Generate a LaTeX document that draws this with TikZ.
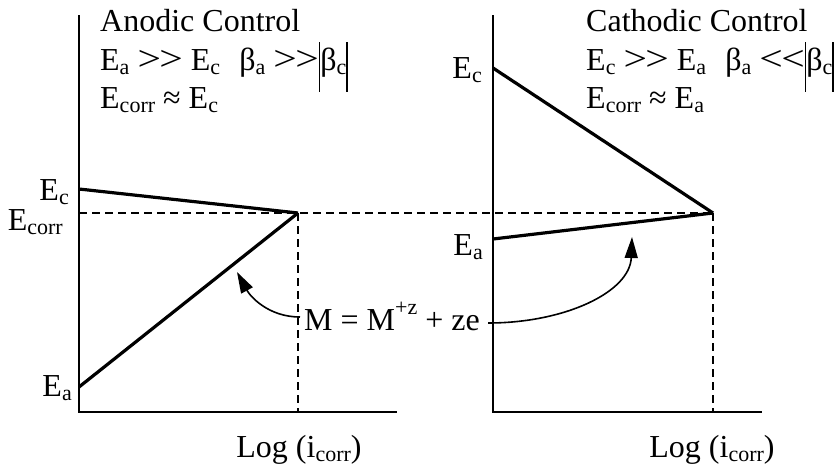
\documentclass[tikz,border=0pt]{standalone}
\usepackage{fontspec}
\usepackage{graphicx}
\setmainfont{Liberation Serif}
\usetikzlibrary{arrows.meta}
\newcommand\lsub[1]{\raisebox{-0.15em}{\fontsize{22}{22}\selectfont #1}}
\newcommand\lsup[1]{\raisebox{0.5em}{\fontsize{22}{22}\selectfont #1}}
\newcommand\vbar{\raisebox{-0.68em}{\rule{1.6pt}{1.56em}}}
\newcommand\bgt{\scalebox{1.3}[1.1]{>}}
\newcommand\blt{\scalebox{1.3}[1.1]{<}}
\newcommand\mgg{\bgt\kern-0.05em\bgt}
\newcommand\mll{\blt\kern-0.05em\blt}
\begin{document}
\begin{tikzpicture}[x=1pt,y=-1pt,
  axis/.style={line width=2pt},
  curve/.style={line width=3.2pt},
  guide/.style={line width=1.6pt, dash pattern=on 8pt off 5pt},
  callout/.style={line width=1.6pt, -{Triangle[length=21pt,width=13pt]}},
  lbl/.style={inner sep=0pt, font=\fontsize{32}{38}\selectfont}]
\useasboundingbox (0,0) rectangle (840,467);
% coordinates
\coordinate (LO) at (79,412); \coordinate (LT) at (79,15); \coordinate (LX) at (397,412);
\coordinate (LEc) at (79,189); \coordinate (LEa) at (79,387);
\coordinate (LI) at (298,213); \coordinate (LB) at (298,412);
\coordinate (RO) at (493,412); \coordinate (RT) at (493,15); \coordinate (RX) at (762,412);
\coordinate (REc) at (493,68); \coordinate (REa) at (493,239);
\coordinate (RI) at (713,213); \coordinate (RB) at (713,412);
% dashed guides
\draw[guide] (LO |- LI) -- (RI);
\draw[guide] (LI) -- (LB);
\draw[guide] (RI) -- (RB);
% axes
\draw[axis] (LT) -- (LO) -- (LX);
\draw[axis] (RT) -- (RO) -- (RX);
% polarization lines
\draw[curve] (LEc) -- (LI);
\draw[curve] (LEa) -- (LI);
\draw[curve] (REc) -- (RI);
\draw[curve] (REa) -- (RI);
% headings
\node[lbl, anchor=base west] (lt1) at (100,31) {Anodic Control};
\node[lbl, anchor=base west] (lt2) at (100,70) {E\lsub{a} \mgg{} E\lsub{c}\hspace{0.6em}β\lsub{a} \mgg\vbar β\lsub{c}\vbar};
\node[lbl, anchor=base west] (lt3) at (100,108) {E\lsub{corr} ≈ E\lsub{c}};
\node[lbl, anchor=base west] (rt1) at (586,31) {Cathodic Control};
\node[lbl, anchor=base west] (rt2) at (586,70) {E\lsub{c} \mgg{} E\lsub{a}\hspace{0.6em}β\lsub{a} \mll\vbar β\lsub{c}\vbar};
\node[lbl, anchor=base west] (rt3) at (586,108) {E\lsub{corr} ≈ E\lsub{a}};
% axis labels
\node[lbl, anchor=base east] (lEc) at (69,200) {E\lsub{c}};
\node[lbl, anchor=base east] (lEcorr) at (63,230) {E\lsub{corr}};
\node[lbl, anchor=base east] (lEa) at (72,396) {E\lsub{a}};
\node[lbl, anchor=base east] (rEc) at (482,78) {E\lsub{c}};
\node[lbl, anchor=base east] (rEa) at (483,255) {E\lsub{a}};
\node[lbl, anchor=base] (lx) at (299,457) {Log (i\lsub{corr})};
\node[lbl, anchor=base] (rx) at (712,457) {Log (i\lsub{corr})};
% reaction
\node[lbl, anchor=base west] (eq) at (304,330) {M = M\lsup{+z} + ze};
\coordinate (eqL) at (300,317);
\coordinate (eqR) at (488,323);
\coordinate (tipL) at (237,272);
\coordinate (tipR) at (632,237);
\draw[callout] (eqL) .. controls (268,317) and (250,296) .. (tipL);
\draw[callout] (eqR) .. controls (565,323) and (630,292) .. (tipR);
\end{tikzpicture}
\end{document}
